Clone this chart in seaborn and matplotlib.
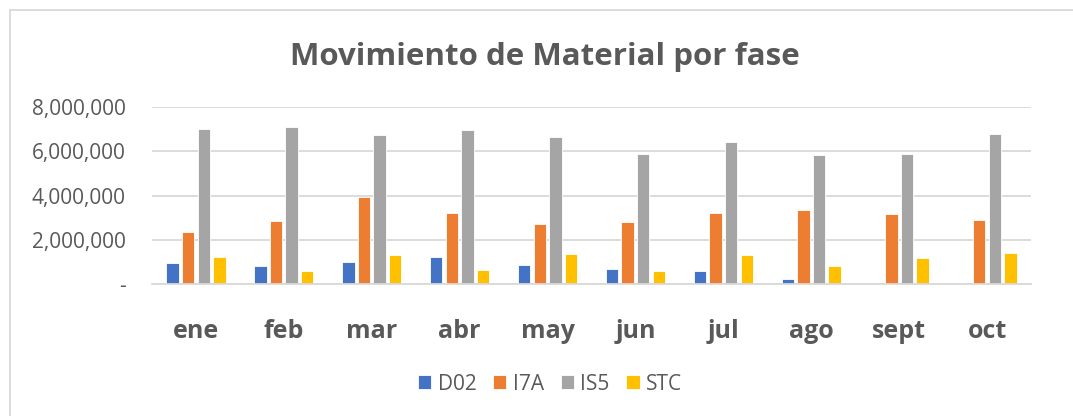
import pandas as pd
import matplotlib.pyplot as plt
import matplotlib.ticker as mticker
from matplotlib.lines import Line2D
import seaborn as sns

# Data
meses = ["ene", "feb", "mar", "abr", "may", "jun", "jul", "ago", "sept", "oct"]
d02 = [950000, 830000, 980000, 1210000, 860000, 680000, 570000, 240000, 0, 0]
i7a = [2350000, 2850000, 3950000, 3230000, 2720000, 2820000, 3230000, 3350000, 3170000, 2880000]
is5 = [7020000, 7080000, 6750000, 6970000, 6630000, 5890000, 6420000, 5830000, 5870000, 6790000]
stc = [1210000, 590000, 1300000, 630000, 1360000, 570000, 1300000, 800000, 1180000, 1400000]
fases = ["D02", "I7A", "IS5", "STC"]
colores = {"D02": "#4472C4", "I7A": "#ED7D31", "IS5": "#A5A5A5", "STC": "#FFC000"}

df = pd.DataFrame({"mes": meses, "D02": d02, "I7A": i7a, "IS5": is5, "STC": stc})
df_long = df.melt(id_vars="mes", value_vars=fases, var_name="fase", value_name="tm")

sns.set_theme(style="white")
plt.rcParams["font.family"] = ["Open Sans", "DejaVu Sans"]
gris = "#595959"

fig = plt.figure(figsize=(10.73, 4.16), dpi=100)
ax = fig.add_axes([152 / 1073, 1 - 284 / 416, (1031 - 152) / 1073, (284 - 107) / 416])

sns.barplot(data=df_long, x="mes", y="tm", hue="fase", order=meses, hue_order=fases,
            palette=colores, saturation=1, width=0.71, gap=0.2, edgecolor="white",
            linewidth=0.6, ax=ax, legend=True)

ax.set_ylim(0, 8000000)
ax.set_xlim(-0.5, len(meses) - 0.5)
ax.yaxis.set_major_locator(mticker.MultipleLocator(2000000))
ax.yaxis.set_major_formatter(mticker.FuncFormatter(lambda v, p: "-" if v == 0 else f"{int(v):,}"))
ax.grid(axis="y", color="#D9D9D9", linewidth=1.3)
ax.set_axisbelow(True)
for s in ["top", "right", "left"]:
    ax.spines[s].set_visible(False)
ax.spines["bottom"].set_color("#D9D9D9")
ax.spines["bottom"].set_linewidth(1.3)
ax.tick_params(axis="y", labelsize=15, colors=gris, length=0, pad=19)
ax.tick_params(axis="x", labelsize=18, colors=gris, length=0, pad=25)
for t in ax.get_xticklabels():
    t.set_fontweight("bold")
ax.set_xlabel("")
ax.set_ylabel("")

handles, labels = ax.get_legend_handles_labels()
ax.legend_.remove()
fig.legend(handles, labels, loc="center", bbox_to_anchor=(550 / 1073, 1 - 384 / 416), ncol=4,
           frameon=False, fontsize=15, labelcolor=gris, handlelength=0.65, handleheight=0.65,
           handletextpad=0.3, columnspacing=0.8)

fig.text(545 / 1073, 1 - 57 / 416, "Movimiento de Material por fase", ha="center", va="center",
         fontsize=22.5, fontweight="bold", color=gris)

# chart frame (left and top edges visible)
fig.add_artist(Line2D([10 / 1073, 10 / 1073], [0, 1 - 10 / 416], color="#D9D9D9", lw=1.3))
fig.add_artist(Line2D([10 / 1073, 1], [1 - 10 / 416, 1 - 10 / 416], color="#D9D9D9", lw=1.3))

fig.savefig("out.png", dpi=100)
